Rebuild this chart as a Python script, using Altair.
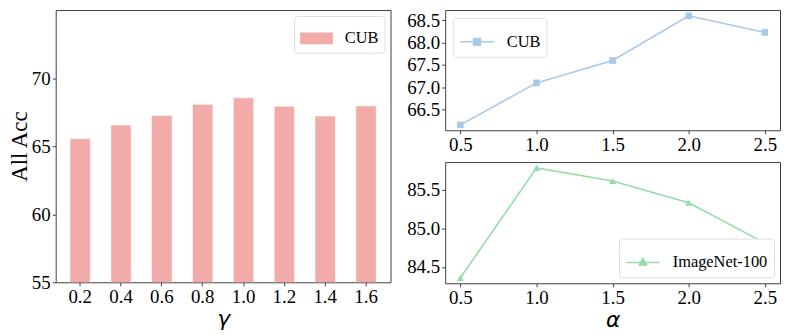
import altair as alt
import pandas as pd

# ---- data ----
gamma = ["0.2", "0.4", "0.6", "0.8", "1.0", "1.2", "1.4", "1.6"]
gamma_acc = [65.55, 66.55, 67.25, 68.07, 68.55, 67.93, 67.22, 67.96]

alpha = [0.5, 1.0, 1.5, 2.0, 2.5]
cub_alpha = [66.16, 67.10, 67.60, 68.60, 68.23]
inet_alpha = [84.36, 85.78, 85.61, 85.33, 84.81]

SERIF = "Liberation Serif"
PINK = "#F2ABA9"
BLUE = "#A8C8EC"
GREEN = "#95DDA8"
FRAME = "#404040"

df_bar = pd.DataFrame({"gamma": gamma, "acc": gamma_acc, "set": "CUB"})
df_cub = pd.DataFrame({"alpha": alpha, "acc": cub_alpha, "set": "CUB"})
df_inet = pd.DataFrame({"alpha": alpha, "acc": inet_alpha, "set": "ImageNet-100"})

legend_common = dict(
    title=None,
    labelFont=SERIF,
    labelFontSize=16.5,
    labelColor="black",
    strokeColor="#dddddd",
    fillColor="white",
    cornerRadius=3,
    padding=6,
    labelOffset=12,
)

xtitle_style = dict(titleFont="DejaVu Sans", titleFontSize=22, titleFontStyle="italic",
                    titleFontWeight="normal", titleColor="black", titlePadding=2)

# ---- left: bar chart ----
bars = alt.Chart(df_bar).mark_bar(stroke="white", strokeWidth=0.6, clip=True).encode(
    x=alt.X("gamma:O", sort=gamma,
            scale=alt.Scale(paddingInner=0.5, paddingOuter=0.35),
            axis=alt.Axis(title="γ", labelAngle=0, **xtitle_style)),
    y=alt.Y("acc:Q", scale=alt.Scale(domain=[55, 75], nice=False, zero=False),
            axis=alt.Axis(title="All Acc", values=[55, 60, 65, 70], format="d",
                          titleFont=SERIF, titleFontSize=23, titleFontWeight="normal",
                          titleColor="black", titlePadding=0)),
    color=alt.Color("set:N", scale=alt.Scale(domain=["CUB"], range=[PINK]),
                    legend=alt.Legend(orient="top-right", offset=6,
                                      symbolType="M-1,-0.36H1V0.36H-1Z",
                                      symbolSize=1089, symbolStrokeWidth=0,
                                      **legend_common)),
).properties(width=337, height=274)


def line_chart(df, color, shape, ydom, yvals, orient, xtitle, legend_path, msize, h, off):
    xaxis = alt.Axis(values=alpha, format=".1f", title=xtitle, **xtitle_style) if xtitle \
        else alt.Axis(values=alpha, format=".1f", title=None)
    base = alt.Chart(df).encode(
        x=alt.X("alpha:Q", scale=alt.Scale(domain=[0.4, 2.6], nice=False, zero=False),
                axis=xaxis),
        y=alt.Y("acc:Q", scale=alt.Scale(domain=ydom, nice=False, zero=False),
                axis=alt.Axis(values=yvals, format=".1f", title=None)),
        color=alt.Color("set:N", scale=alt.Scale(domain=[df["set"][0]], range=[color]),
                        legend=alt.Legend(orient=orient, offset=off,
                                          symbolType=legend_path, symbolSize=1156,
                                          symbolStrokeWidth=1.5,
                                          symbolFillColor=color,
                                          **legend_common)),
    )
    line = base.mark_line(strokeWidth=1.6)
    pts = base.mark_point(filled=True, shape=shape, size=msize, opacity=1)
    return alt.layer(line, pts).properties(width=337, height=h)


top = line_chart(df_cub, BLUE, "square", [66.04, 68.73],
                 [66.5, 67.0, 67.5, 68.0, 68.5], "top-left", None,
                 "M-1,0H1M-0.2,-0.2H0.2V0.2H-0.2Z", 45, 121, 8)
bottom = line_chart(df_inet, GREEN, "triangle-up", [84.29, 85.855],
                    [84.5, 85.0, 85.5], "bottom-right", "α",
                    "M-1,0H1M0,-0.24L0.22,0.16H-0.22Z", 50, 122, 6)

right = alt.vconcat(top, bottom, spacing=6).resolve_scale(color="independent")

chart = alt.hconcat(bars, right, spacing=14).resolve_scale(color="independent").configure(
    padding=0,
).configure_view(
    stroke=FRAME, strokeWidth=1,
).configure_axis(
    domain=False,
    grid=False,
    labelFont=SERIF,
    labelFontSize=19,
    labelColor="black",
    tickColor=FRAME,
    tickSize=3.5,
    tickWidth=1,
    labelPadding=2,
)

chart.save("out.html", embed_options={"renderer": "svg", "actions": False})
